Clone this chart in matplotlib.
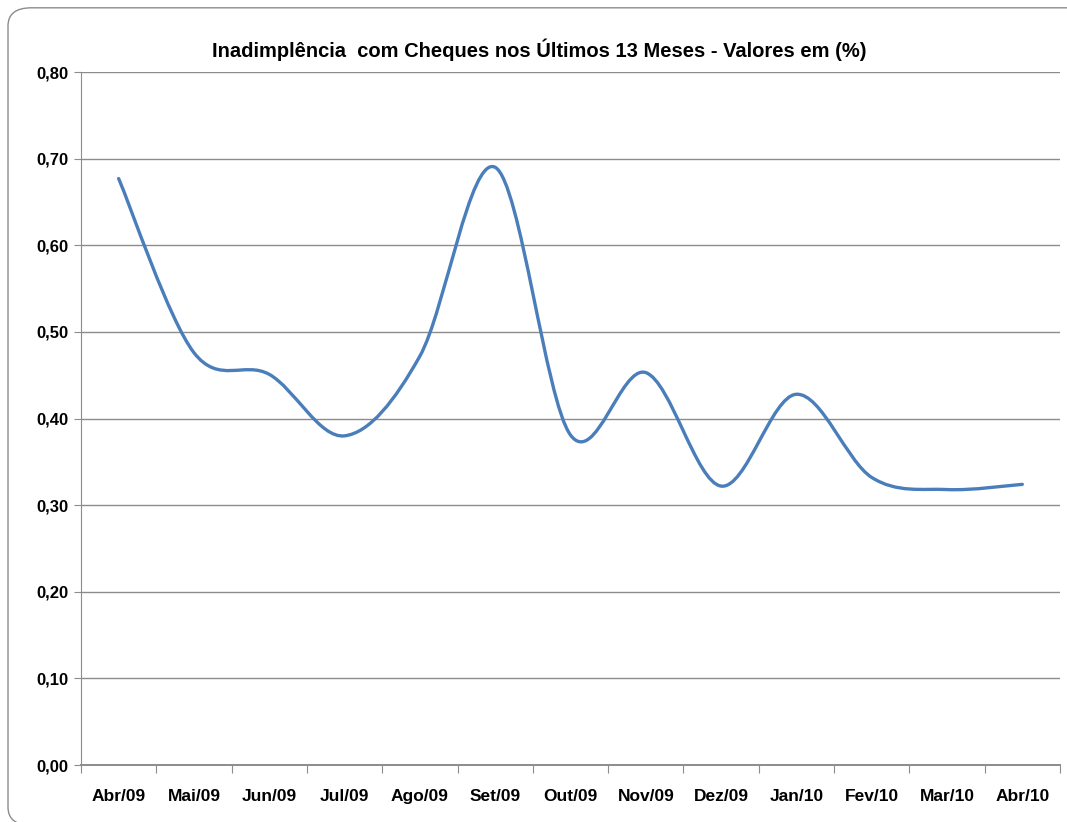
import matplotlib
matplotlib.use('Agg')
import matplotlib.pyplot as plt
from matplotlib.path import Path
from matplotlib.patches import PathPatch, FancyBboxPatch
import numpy as np

meses = ['Abr/09', 'Mai/09', 'Jun/09', 'Jul/09', 'Ago/09', 'Set/09', 'Out/09',
         'Nov/09', 'Dez/09', 'Jan/10', 'Fev/10', 'Mar/10', 'Abr/10']
valores = [0.677, 0.476, 0.451, 0.380, 0.472, 0.690, 0.381,
           0.453, 0.322, 0.428, 0.332, 0.318, 0.324]
ticks_y = [0.0, 0.1, 0.2, 0.3, 0.4, 0.5, 0.6, 0.7, 0.8]

plt.rcParams['font.family'] = ['Liberation Sans', 'DejaVu Sans']

fig = plt.figure(figsize=(10.67, 8.22), dpi=100)

# moldura arredondada do grafico (estilo Excel)
moldura = FancyBboxPatch((0.0075, -0.004), 1.05, 0.9945,
                         boxstyle='round,pad=0,rounding_size=0.022',
                         transform=fig.transFigure, fill=False,
                         edgecolor='#8c8c8c', linewidth=1.0)
fig.patches.append(moldura)

ax = fig.add_axes([0.0759, 0.0693, 0.9175, 0.8431])

# curva suavizada (bezier tipo Excel / Catmull-Rom)
x = np.arange(len(valores)) + 0.5
y = np.array(valores)
pts = np.column_stack([x, y])
verts = [pts[0]]
codes = [Path.MOVETO]
n = len(pts)
for i in range(n - 1):
    p0 = pts[max(i - 1, 0)]
    p1 = pts[i]
    p2 = pts[i + 1]
    p3 = pts[min(i + 2, n - 1)]
    c1 = p1 + (p2 - p0) / 6.0
    c2 = p2 - (p3 - p1) / 6.0
    verts += [c1, c2, p2]
    codes += [Path.CURVE4] * 3
curva = PathPatch(Path(verts, codes), facecolor='none', edgecolor='#4a7ebb',
                  linewidth=2.4, capstyle='round', joinstyle='round', zorder=3)
ax.add_patch(curva)

ax.set_xlim(0, len(meses))
ax.set_ylim(0, 0.8)

ax.set_yticks(ticks_y)
ax.set_yticklabels([f'{v:.2f}'.replace('.', ',') for v in ticks_y],
                   fontsize=12, fontweight='bold')
ax.yaxis.grid(True, color='#8c8c8c', linewidth=1.0)
ax.set_axisbelow(True)

ax.set_xticks(np.arange(len(meses) + 1))
ax.set_xticklabels([''] * (len(meses) + 1))
ax.set_xticks(x, minor=True)
ax.set_xticklabels(meses, minor=True, fontsize=12.5, fontweight='bold')
ax.tick_params(axis='x', which='major', length=6, color='#8c8c8c', direction='out')
ax.tick_params(axis='x', which='minor', length=0, pad=17)
ax.tick_params(axis='y', length=5, color='#8c8c8c', pad=4)

for lado in ['top', 'right']:
    ax.spines[lado].set_visible(False)
ax.spines['left'].set_color('#8c8c8c')
ax.spines['bottom'].set_color('#8c8c8c')
ax.spines['bottom'].set_linewidth(1.4)

fig.text(0.505, 0.939, 'Inadimplência  com Cheques nos Últimos 13 Meses - Valores em (%)',
         ha='center', va='center', fontsize=14.5, fontweight='bold')

fig.savefig('out.png', dpi=100)
